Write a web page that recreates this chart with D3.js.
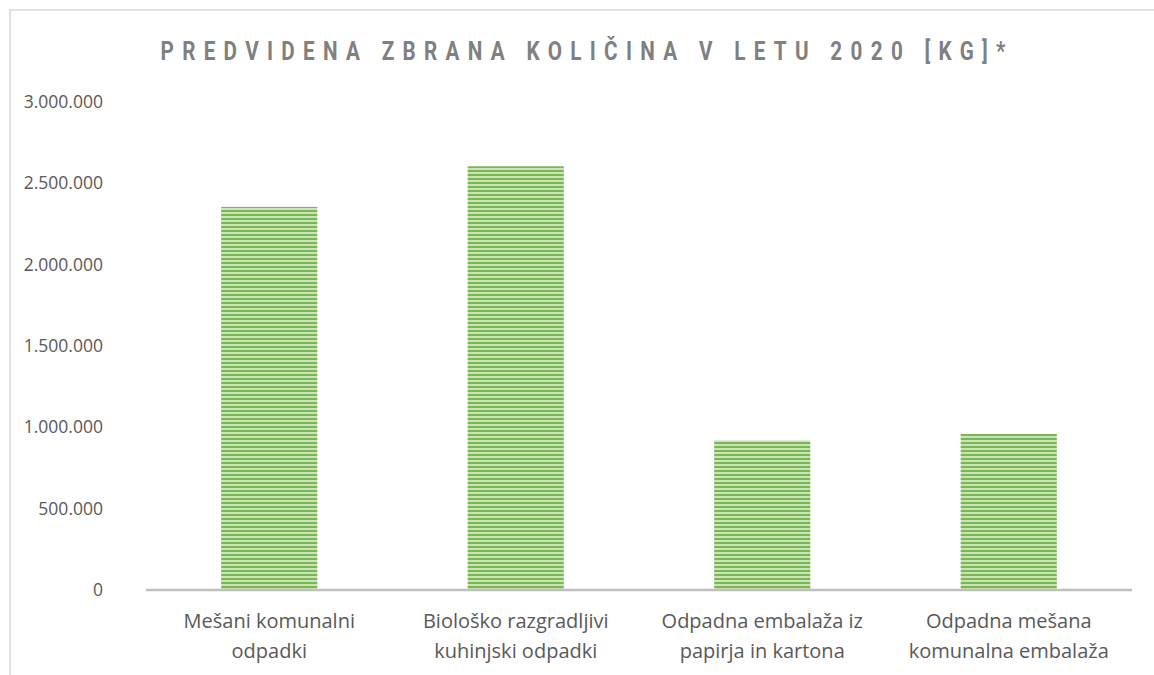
<!DOCTYPE html>
<html>
<head>
<meta charset="utf-8">
<script src="https://cdn.jsdelivr.net/npm/d3@7"></script>
<style>
  body { margin: 0; background: #fff; }
  text { font-family: "Open Sans", sans-serif; }
</style>
</head>
<body>
<div id="chart"></div>
<script>
const categories = [
    ["Mešani komunalni", "odpadki"],
    ["Biološko razgradljivi", "kuhinjski odpadki"],
    ["Odpadna embalaža iz", "papirja in kartona"],
    ["Odpadna mešana", "komunalna embalaža"]
];
const amounts = [2355000, 2605000, 920000, 960000];
const yTicks = [0, 500000, 1000000, 1500000, 2000000, 2500000, 3000000];
const title = "PREDVIDENA ZBRANA KOLIČINA V LETU 2020 [KG]*";

const W = 1154, H = 675;
const margin = { top: 102, right: 22, bottom: 85, left: 146 };
const width = W - margin.left - margin.right;
const height = H - margin.top - margin.bottom;

const svg = d3.select("#chart").append("svg")
    .attr("width", W)
    .attr("height", H);

// striped fill like the excel pattern
const defs = svg.append("defs");
const pat = defs.append("pattern")
    .attr("id", "stripes")
    .attr("patternUnits", "userSpaceOnUse")
    .attr("width", 8)
    .attr("height", 4);
pat.append("rect").attr("width", 8).attr("height", 4).attr("fill", "#c9e4b6");
pat.append("rect").attr("y", 0).attr("width", 8).attr("height", 2).attr("fill", "#7ab651");

// chart frame (top and left edges visible)
svg.append("path")
    .attr("d", `M10,${H} V10 H${W}`)
    .attr("fill", "none")
    .attr("stroke", "#d9d9d9")
    .attr("stroke-width", 1.5);

// title: narrow bold caps, squeezed horizontally to look like calibri
const titleScale = 0.78;
svg.append("text")
    .attr("transform", `translate(583,60) scale(${titleScale},1)`)
    .attr("text-anchor", "middle")
    .attr("textLength", 845 / titleScale)
    .attr("lengthAdjust", "spacing")
    .style("font-family", "Roboto, sans-serif")
    .style("font-size", "26.5px")
    .style("font-weight", "bold")
    .style("fill", "#808080")
    .text(title);

const g = svg.append("g")
    .attr("transform", `translate(${margin.left},${margin.top})`);

const x = d3.scaleBand()
    .domain(d3.range(categories.length))
    .range([0, width])
    .paddingInner(0.61)
    .paddingOuter(0.305);

const y = d3.scaleLinear()
    .domain([0, 3000000])
    .range([height, 0]);

const fmt = n => d3.format(",")(n).replace(/,/g, ".");

//y axis labels, no line
const yAxis = g.append("g")
    .call(d3.axisLeft(y).tickValues(yTicks).tickFormat(fmt).tickSize(0).tickPadding(43));
yAxis.select(".domain").remove();
yAxis.selectAll("text")
    .style("font-family", "'Open Sans', sans-serif")
    .style("font-size", "17.5px")
    .style("fill", "#595959");

g.append("g")
    .selectAll("rect")
    .data(amounts)
    .join("rect")
        .attr("x", (d, i) => x(i))
        .attr("y", d => y(d))
        .attr("width", x.bandwidth())
        .attr("height", d => height - y(d))
        .attr("fill", "url(#stripes)");

//baseline
g.append("line")
    .attr("x1", 0)
    .attr("x2", width)
    .attr("y1", height)
    .attr("y2", height)
    .attr("stroke", "#bfbfbf")
    .attr("stroke-width", 2.5);

//category labels on two lines
const labels = g.append("g")
    .selectAll("text")
    .data(categories)
    .join("text")
        .attr("x", (d, i) => x(i) + x.bandwidth() / 2)
        .attr("y", height + 38)
        .attr("text-anchor", "middle")
        .style("font-size", "20px")
        .style("fill", "#595959");
labels.selectAll("tspan")
    .data(d => d)
    .join("tspan")
        .attr("x", function () { return this.parentNode.getAttribute("x"); })
        .attr("dy", (d, i) => i === 0 ? 0 : 30)
        .text(d => d);
</script>
</body>
</html>
